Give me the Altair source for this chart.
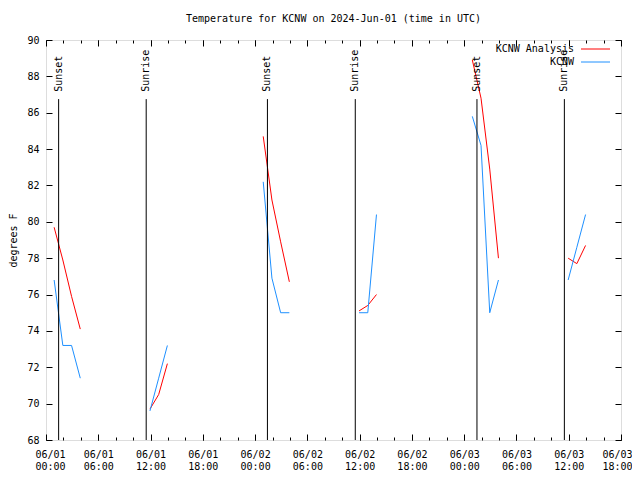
import altair as alt
import pandas as pd

FONT = "DejaVu Sans Mono"
TITLE = "Temperature for KCNW on 2024-Jun-01 (time in UTC)"

# --- observation times (UTC) and segment ids -------------------------------
obs_times = [
    "2024-06-01T00:56:00Z", "2024-06-01T01:56:00Z", "2024-06-01T02:56:00Z", "2024-06-01T03:56:00Z",
    "2024-06-01T11:56:00Z", "2024-06-01T12:56:00Z", "2024-06-01T13:56:00Z",
    "2024-06-02T00:56:00Z", "2024-06-02T01:56:00Z", "2024-06-02T02:56:00Z", "2024-06-02T03:56:00Z",
    "2024-06-02T11:56:00Z", "2024-06-02T12:56:00Z", "2024-06-02T13:56:00Z",
    "2024-06-03T00:56:00Z", "2024-06-03T01:56:00Z", "2024-06-03T02:56:00Z", "2024-06-03T03:56:00Z",
    "2024-06-03T11:56:00Z", "2024-06-03T12:56:00Z", "2024-06-03T13:56:00Z",
]
obs_segment = [1, 1, 1, 1, 2, 2, 2, 3, 3, 3, 3, 4, 4, 4, 5, 5, 5, 5, 6, 6, 6]

# --- series values (degrees F) ----------------------------------------------
kcnw_temps = [76.8, 73.2, 73.2, 71.4,
              69.6, 71.4, 73.2,
              82.2, 76.9, 75.0, 75.0,
              75.0, 75.0, 80.4,
              85.8, 84.2, 75.0, 76.8,
              76.8, 78.6, 80.4]
analysis_temps = [79.7, 77.9, 75.9, 74.1,
                  69.7, 70.5, 72.2,
                  84.7, 81.2, 78.9, 76.7,
                  75.1, 75.4, 76.0,
                  88.9, 86.8, 82.9, 78.0,
                  78.0, 77.7, 78.7]

series_names = ["KCNW Analysis", "KCNW"]
series_colors = ["#ff0000", "#1e90ff"]

# --- sunset / sunrise events --------------------------------------------------
event_times = ["2024-06-01T01:27:00Z", "2024-06-01T11:30:00Z",
               "2024-06-02T01:25:00Z", "2024-06-02T11:30:00Z",
               "2024-06-03T01:28:00Z", "2024-06-03T11:30:00Z"]
event_labels = ["Sunset", "Sunrise", "Sunset", "Sunrise", "Sunset", "Sunrise"]
event_top = 86.75
event_label_y = 87.15

# --- axis ticks -----------------------------------------------------------------
y_ticks = list(range(68, 91, 2))
major_hours = [(d, h) for d in (1, 2, 3) for h in (0, 6, 12, 18)]
minor_hours = [(d, h) for d in (1, 2, 3) for h in range(0, 24, 2) if not (d == 3 and h > 18)]


def dt(d, h):
    return alt.DateTime(year=2024, month=6, date=d, hours=h, utc=True)


analysis_df = pd.DataFrame({"time": obs_times, "temp": analysis_temps, "seg": obs_segment})
kcnw_df = pd.DataFrame({"time": obs_times, "temp": kcnw_temps, "seg": obs_segment})
event_df = pd.DataFrame({
    "time": event_times,
    "label": event_labels,
    "top": [event_top] * len(event_times),
    "bottom": [68] * len(event_times),
    "label_y": [event_label_y] * len(event_times),
})

x_scale = alt.Scale(type="utc", domain=[dt(1, 0), dt(3, 18)], nice=False)
y_scale = alt.Scale(domain=[68, 90], nice=False, zero=False)

common = dict(grid=False, domain=False, title=None, tickColor="black", tickWidth=1)

ax_bottom = alt.Axis(orient="bottom", values=[dt(d, h) for d, h in major_hours],
                     labelExpr="[utcFormat(datum.value, '%m/%d'), utcFormat(datum.value, '%H:%M')]",
                     tickSize=6, offset=-6, labelPadding=9, labelFlush=True, labelFlushOffset=11,
                     labelOverlap=False,
                     labelBound=False, labelLineHeight=12, labelFont=FONT, labelFontSize=10,
                     labelColor="black", **common)
ax_top = alt.Axis(orient="top", values=[dt(d, h) for d, h in major_hours],
                  tickSize=6, offset=-6, labels=False, **common)
ax_bottom_minor = alt.Axis(orient="bottom", values=[dt(d, h) for d, h in minor_hours],
                           tickSize=3, offset=-3, labels=False, **common)
ax_top_minor = alt.Axis(orient="top", values=[dt(d, h) for d, h in minor_hours],
                        tickSize=3, offset=-3, labels=False, **common)
ax_left = alt.Axis(orient="left", values=y_ticks, tickSize=6, offset=-6, labelPadding=7,
                   labelFont=FONT, labelFontSize=10, labelColor="black", labelOverlap=False,
                   labelFlush=False, labelBound=False,
                   title="degrees F", titleFont=FONT, titleFontSize=10, titleFontWeight="normal",
                   titleColor="black", titlePadding=8,
                   grid=False, domain=False, tickColor="black", tickWidth=1)
ax_right = alt.Axis(orient="right", values=y_ticks, tickSize=6, offset=-6, labels=False, **common)

red = alt.Chart(analysis_df).mark_line(color=series_colors[0], strokeWidth=1).encode(
    x=alt.X("time:T", scale=x_scale, axis=ax_bottom),
    y=alt.Y("temp:Q", scale=y_scale, axis=ax_left),
    detail="seg:N",
)
blue = alt.Chart(kcnw_df).mark_line(color=series_colors[1], strokeWidth=1).encode(
    x=alt.X("time:T", scale=x_scale, axis=ax_top),
    y=alt.Y("temp:Q", scale=y_scale, axis=ax_right),
    detail="seg:N",
)
rules = alt.Chart(event_df).mark_rule(color="black", strokeWidth=1).encode(
    x=alt.X("time:T", scale=x_scale, axis=ax_bottom_minor),
    y=alt.Y("top:Q", scale=y_scale, axis=None),
    y2=alt.Y2("bottom:Q"),
)
ev_text = alt.Chart(event_df).mark_text(angle=270, align="left", baseline="middle",
                                        font=FONT, fontSize=10, color="black").encode(
    x=alt.X("time:T", scale=x_scale, axis=ax_top_minor),
    y=alt.Y("label_y:Q", scale=y_scale, axis=None),
    text="label:N",
)

legend_layers = []
for i, (name, color) in enumerate(zip(series_names, series_colors)):
    ldf = pd.DataFrame({"name": [name]})
    ypos = 9 + 13 * i
    legend_layers.append(
        alt.Chart(ldf).mark_text(align="right", baseline="middle", font=FONT, fontSize=10,
                                 color="black").encode(
            x=alt.value(528), y=alt.value(ypos), text="name:N")
    )
    legend_layers.append(
        alt.Chart(ldf).mark_rule(color=color, strokeWidth=1).encode(
            x=alt.value(535), x2=alt.value(564), y=alt.value(ypos))
    )

chart = alt.layer(red, blue, rules, ev_text, *legend_layers).resolve_axis(
    x="independent", y="independent"
).properties(
    width=575,
    height=400,
    title=alt.TitleParams(text=TITLE, font=FONT, fontSize=10, fontWeight="normal",
                          anchor="middle", offset=11, color="black"),
    autosize=alt.AutoSizeParams(type="none"),
    padding={"left": 38, "top": 32, "right": 11, "bottom": 31},
).configure_view(stroke="black", strokeWidth=1).configure(background="white")

chart.save("out.html", embed_options={"renderer": "svg", "actions": False})
